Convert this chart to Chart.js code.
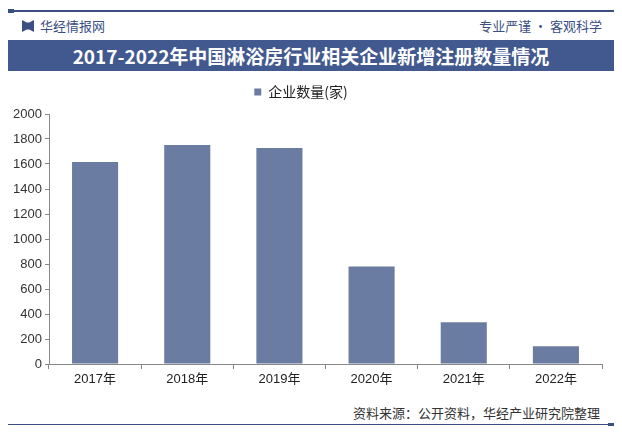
<!DOCTYPE html>
<html>
<head>
<meta charset="utf-8">
<script src="https://cdn.jsdelivr.net/npm/chart.js@4/dist/chart.umd.min.js"></script>
<style>
  body { margin: 0; width: 622px; height: 437px; background: #fff; position: relative; overflow: hidden;
         font-family: "Noto Sans CJK SC", sans-serif; }
  .topline { position: absolute; left: 8px; top: 10px; width: 606px; height: 2px; background: #3b4f83; }
  .topline:before { content: ""; position: absolute; left: 0; top: -1px; width: 6px; height: 4px; background: #3b4f83; }
  .brand { position: absolute; left: 22px; top: 15px; font-size: 13px; color: #3b4f83; line-height: 22px; }
  .brand i { display: inline-block; width: 12px; height: 12px; background: #3b4f83; vertical-align: -1px; margin-right: 6px;
             clip-path: polygon(0 0, 40% 20%, 60% 20%, 100% 0, 100% 100%, 60% 80%, 40% 80%, 0 100%); }
  .motto { position: absolute; right: 20px; top: 15px; font-size: 13px; color: #3b4f83; line-height: 22px; }
  .band { position: absolute; left: 8px; top: 40px; width: 606px; height: 31px; background: #42598f; color: #fff;
          font-weight: bold; font-size: 19px; line-height: 31px; text-align: center; }
  .source { position: absolute; right: 22px; top: 404px; font-size: 13px; color: #333; line-height: 18px; }
  .botline { position: absolute; left: 8px; top: 424px; width: 600px; height: 1px; background: #3b4f83; }
  .botline:after { content: ""; position: absolute; right: -6px; top: -1px; width: 6px; height: 3px; background: #3b4f83; }
  #wrap { position: absolute; left: 0; top: 75px; width: 622px; height: 325px; }
</style>
</head>
<body>
<div class="topline"></div>
<div class="brand"><i></i>华经情报网</div>
<div class="motto">专业严谨 • 客观科学</div>
<div class="band">2017-2022年中国淋浴房行业相关企业新增注册数量情况</div>
<div id="wrap"><canvas id="myChart" width="622" height="325"></canvas></div>
<div class="source">资料来源：公开资料，华经产业研究院整理</div>
<div class="botline"></div>
<script>
var years = ['2017年', '2018年', '2019年', '2020年', '2021年', '2022年'];
var companies = [1617, 1753, 1729, 781, 335, 143];
var seriesName = '企业数量(家)';

// a bit more room under the legend
var legendGap = {
  id: 'legendGap',
  afterInit: function (chart) {
    var fit = chart.legend.fit;
    chart.legend.fit = function () { fit.call(this); this.height += 5; };
  }
};

var ctx = document.getElementById('myChart').getContext('2d');
var myChart = new Chart(ctx, {
  type: 'bar',
  data: {
    labels: years,
    datasets: [{
      label: seriesName,
      data: companies,
      backgroundColor: '#6a7ca1',
      barPercentage: 0.5,
      categoryPercentage: 1
    }]
  },
  plugins: [legendGap],
  options: {
    responsive: false,
    animation: false,
    layout: { padding: { left: 0, right: 20, top: 0, bottom: 0 } },
    plugins: {
      tooltip: { enabled: false },
      legend: {
        labels: {
          font: { family: '"Noto Sans CJK SC"', size: 14 },
          color: '#222',
          boxWidth: 7,
          boxHeight: 7,
          padding: 10
        }
      }
    },
    scales: {
      y: {
        min: 0,
        max: 2000,
        ticks: {
          stepSize: 200, color: '#333', padding: 3,
          font: { family: '"Liberation Sans"', size: 13 },
          callback: function (v) { return String(v); }
        },
        grid: { drawOnChartArea: false, tickLength: 4, color: '#888' },
        border: { color: '#888' },
        afterFit: function (s) { s.width = 49; }
      },
      x: {
        ticks: { color: '#222', font: { family: '"Liberation Sans", "Noto Sans CJK SC"', size: 13 }, padding: 3 },
        grid: { drawOnChartArea: false, tickLength: 5, color: '#888', offset: true },
        border: { color: '#888' },
        afterFit: function (s) { s.height = 36; }
      }
    }
  }
});
</script>
</body>
</html>
